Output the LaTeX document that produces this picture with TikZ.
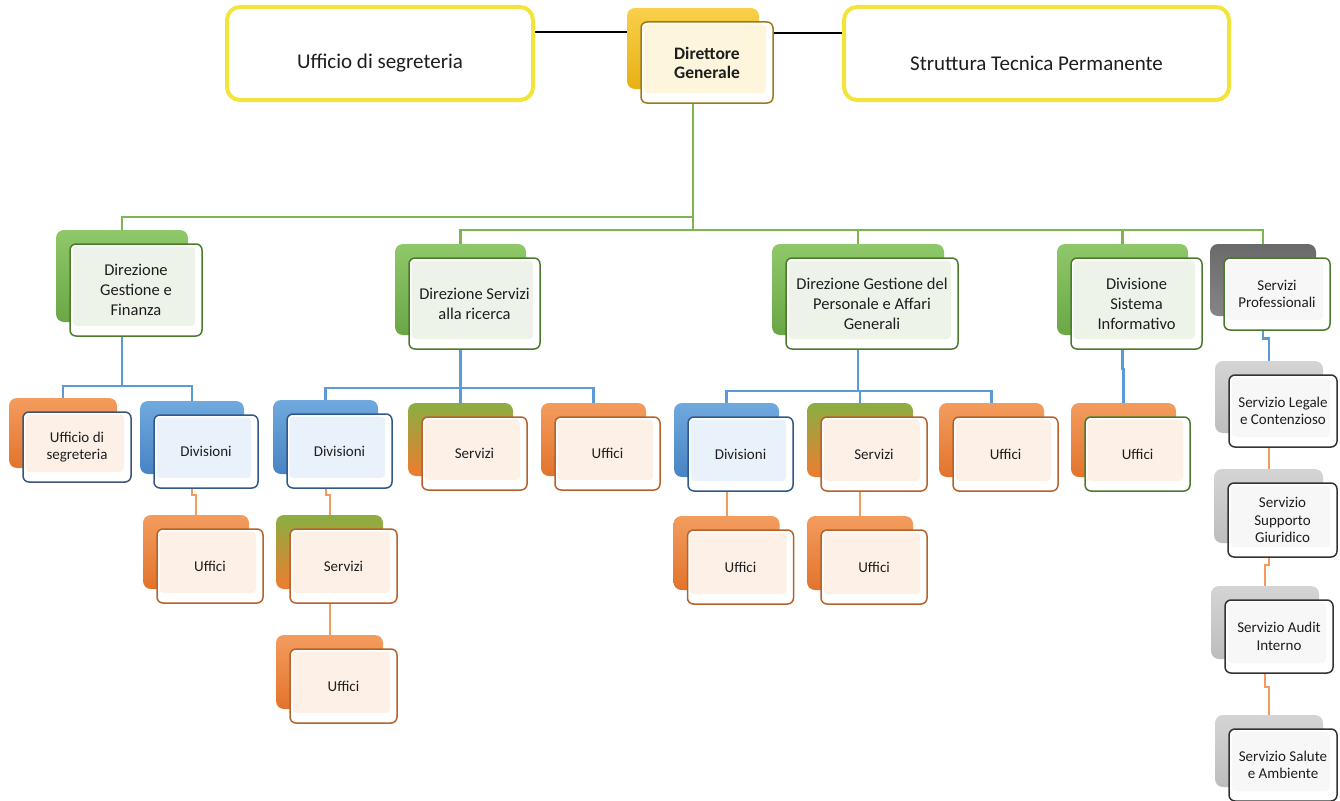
\documentclass[tikz,border=0pt]{standalone}
\usepackage{fontspec}
\setmainfont{Carlito}
\usetikzlibrary{calc}
\definecolor{gT}{HTML}{8FC86A}
\definecolor{gB}{HTML}{6AA646}
\definecolor{gD}{HTML}{4A7A2C}
\definecolor{gTint}{HTML}{EEF3EA}
\definecolor{oT}{HTML}{F39C5E}
\definecolor{oB}{HTML}{E2742C}
\definecolor{oD}{HTML}{B5622C}
\definecolor{oTint}{HTML}{FDF0E6}
\definecolor{bT}{HTML}{70A9DD}
\definecolor{bB}{HTML}{4884C4}
\definecolor{bD}{HTML}{30598A}
\definecolor{bTint}{HTML}{E9F2FB}
\definecolor{yT}{HTML}{F8D04A}
\definecolor{yB}{HTML}{E8B014}
\definecolor{yD}{HTML}{9C7A1C}
\definecolor{yTint}{HTML}{FDF6DC}
\definecolor{kT}{HTML}{6A6A6A}
\definecolor{kB}{HTML}{858585}
\definecolor{lT}{HTML}{D4D4D4}
\definecolor{lB}{HTML}{BDBDBD}
\definecolor{kD}{HTML}{333333}
\definecolor{kTint}{HTML}{F7F7F7}
\definecolor{nD}{HTML}{3A5575}
\definecolor{goT}{HTML}{8AAE42}
\definecolor{goB}{HTML}{EE7C30}
\definecolor{yBorder}{HTML}{F3E43C}
\definecolor{gLine}{HTML}{7DB64E}
\definecolor{bLine}{HTML}{5B9BD5}
\definecolor{oLine}{HTML}{F39A5C}
\definecolor{txt}{HTML}{1E1E1E}
\pgfdeclarelayer{bg}
\pgfsetlayers{bg,main}
\tikzset{
  boxtint/.code={\def\boxtintcol{#1}},
  backbox/.style={rounded corners=8pt, draw=none, inner sep=0pt},
  frontbox/.style={rounded corners=6pt, line width=1.5pt, fill=white, inner sep=1pt,
    align=center, text=txt,
    path picture={\fill[\boxtintcol, rounded corners=4pt]
      ($(path picture bounding box.north west)+(2.5pt,-2.5pt)$) rectangle
      ($(path picture bounding box.south east)+(-7pt,10pt)$);}},
  topbox/.style={draw=yBorder, line width=4pt, rounded corners=13pt, fill=white},
  bkG/.style={top color=gT, bottom color=gB},
  bkO/.style={top color=oT, bottom color=oB},
  bkB/.style={top color=bT, bottom color=bB},
  bkY/.style={top color=yT, bottom color=yB},
  bkK/.style={top color=kT, bottom color=kB},
  bkL/.style={top color=lT, bottom color=lB},
  bkGO/.style={top color=goT, bottom color=goB},
  frG/.style={draw=gD, boxtint=gTint},
  frO/.style={draw=oD, boxtint=oTint},
  frB/.style={draw=bD, boxtint=bTint},
  frY/.style={draw=yD, boxtint=yTint},
  frK/.style={draw=kD, boxtint=kTint},
  frGO/.style={draw=gD, boxtint=oTint},
  frGK/.style={draw=gD, boxtint=kTint},
  frN/.style={draw=nD, boxtint=oTint},
  fLone/.style={font=\fontsize{16.5}{20}\selectfont},
  fLtwo/.style={font=\fontsize{15}{17.5}\selectfont},
  fDG/.style={font=\fontsize{17.5}{19}\selectfont\bfseries},
  fTop/.style={font=\fontsize{21}{25}\selectfont},
  kline/.style={draw=black, line width=1.6pt},
  gline/.style={draw=gLine, line width=2.6pt},
  bline/.style={draw=bLine, line width=2.2pt},
  oline/.style={draw=oLine, line width=2pt},
}
\newcommand\orgnode[8]{%
  \node[backbox,#5,minimum width=#3,minimum height=#4] (#1-b) at ($(#2)+(-14,-14)$) {};
  \node[frontbox,#6,#7,minimum width=#3,minimum height=#4] (#1) at (#2) {#8};}
\begin{document}
\begin{tikzpicture}[x=1pt,y=-1pt]
\useasboundingbox (0,0) rectangle (1340,800);
% top boxes
\node[topbox, minimum width=306, minimum height=93,
  label={[name=ufseg-t, yshift=-10pt, fTop, text=txt]center:Ufficio di segreteria}] (ufseg) at (380,53.5) {};
\node[topbox, minimum width=385, minimum height=93,
  label={[name=stp-t, yshift=-10pt, fTop, text=txt]center:Struttura Tecnica Permanente}] (stp) at (1036.5,53.5) {};
\orgnode{dg}{707,62.5}{132}{81}{bkY}{frY}{fDG}{Direttore\\Generale}
% level 1
\orgnode{dgf}{136,290}{132}{92}{bkG}{frG}{fLone}{Direzione\\Gestione e\\Finanza}
\orgnode{dsr}{474.5,303.5}{131}{91}{bkG}{frG}{fLone}{Direzione Servizi\\alla ricerca}
\orgnode{dgp}{872,303.5}{172}{91}{bkG}{frG}{fLone}{Direzione Gestione del\\Personale e Affari\\Generali}
\orgnode{dsi}{1136.5,303.5}{131}{91}{bkG}{frG}{fLone}{Divisione\\Sistema\\Informativo}
\orgnode{sp}{1277,294}{106}{72}{bkK}{frGK}{fLtwo}{Servizi\\Professionali}
% level 2
\orgnode{dgfus}{77,447}{108}{70}{bkO}{frN}{fLtwo}{Ufficio di\\segreteria}
\orgnode{dgfdiv}{206,451.5}{104}{73}{bkB}{frB}{fLtwo}{Divisioni}
\orgnode{dgfuff}{210,566}{106}{74}{bkO}{frO}{fLtwo}{Uffici}
\orgnode{dsrdiv}{339.5,451}{105}{74}{bkB}{frB}{fLtwo}{Divisioni}
\orgnode{dsrser}{474.5,453.5}{105}{73}{bkGO}{frO}{fLtwo}{Servizi}
\orgnode{dsruff}{607.5,453.5}{105}{73}{bkO}{frO}{fLtwo}{Uffici}
\orgnode{dsrser2}{343.5,566}{107}{74}{bkGO}{frO}{fLtwo}{Servizi}
\orgnode{dsruff2}{343.5,686}{107}{74}{bkO}{frO}{fLtwo}{Uffici}
\orgnode{dgpdiv}{740.5,454}{105}{74}{bkB}{frB}{fLtwo}{Divisioni}
\orgnode{dgpser}{874,454}{106}{74}{bkGO}{frO}{fLtwo}{Servizi}
\orgnode{dgpuff}{1005.5,454}{105}{74}{bkO}{frO}{fLtwo}{Uffici}
\orgnode{dgpuffa}{740.5,567}{106}{74}{bkO}{frO}{fLtwo}{Uffici}
\orgnode{dgpuffb}{874,567}{106}{74}{bkO}{frO}{fLtwo}{Uffici}
\orgnode{dsiuff}{1137.5,454}{105}{74}{bkO}{frGO}{fLtwo}{Uffici}
\orgnode{sa}{1283,411}{108}{72}{bkL}{frK}{fLtwo}{Servizio Legale\\e Contenzioso}
\orgnode{sb}{1282.5,520}{109}{74}{bkL}{frK}{fLtwo}{Servizio\\Supporto\\Giuridico}
\orgnode{sc}{1279,636.5}{108}{73}{bkL}{frK}{fLtwo}{Servizio Audit\\Interno}
\orgnode{sd}{1283,765}{108}{72}{bkL}{frK}{fLtwo}{Servizio Salute\\e Ambiente}
% connectors
\begin{pgfonlayer}{bg}
\fill[white] (0,0) rectangle (1340,800);
\draw[kline] (ufseg.east |- 0,32) -- (dg-b.west |- 0,32);
\draw[kline] (dg.east |- 0,33) -- (stp.west |- 0,33);
\draw[gline] (dg-b.south) -- (dg-b.south |- 0,230);
\draw[gline] (dg-b.south |- 0,217) -| (dgf-b.north);
\draw[gline] (dsr-b.north) |- (sp-b.north |- 0,230) -- (sp-b.north);
\draw[gline] (dgp-b.north) -- (dgp-b.north |- 0,230);
\draw[gline] (dsi-b.north) -- (dsi-b.north |- 0,230);
% DGF
\draw[bline] (dgf-b.south) -- (dgf-b.south |- 0,386);
\draw[bline] (dgfus-b.north) |- (dgfdiv-b.north |- 0,386) -- (dgfdiv-b.north);
\draw[oline] (dgfdiv-b.south) |- ($(dgfdiv-b.south)!.5!(dgfuff-b.north)$) -| (dgfuff-b.north);
% DSR
\draw[bline] (dsr-b.south) -- (dsr-b.south |- 0,388);
\draw[bline] (dsrdiv-b.north) |- (dsruff-b.north |- 0,388) -- (dsruff-b.north);
\draw[bline] (dsrser-b.north) -- (dsrser-b.north |- 0,388);
\draw[oline] (dsrdiv-b.south) |- ($(dsrdiv-b.south)!.5!(dsrser2-b.north)$) -| (dsrser2-b.north);
\draw[oline] (dsrser2-b.south) |- ($(dsrser2-b.south)!.5!(dsruff2-b.north)$) -| (dsruff2-b.north);
% DGP
\draw[bline] (dgp-b.south) -- (dgp-b.south |- 0,391);
\draw[bline] (dgpdiv-b.north) |- (dgpuff-b.north |- 0,391) -- (dgpuff-b.north);
\draw[bline] (dgpser-b.north) -- (dgpser-b.north |- 0,391);
\draw[oline] (dgpdiv-b.south) |- ($(dgpdiv-b.south)!.5!(dgpuffa-b.north)$) -| (dgpuffa-b.north);
\draw[oline] (dgpser-b.south) |- ($(dgpser-b.south)!.5!(dgpuffb-b.north)$) -| (dgpuffb-b.north);
% DSI
\draw[bline] (dsi-b.south) |- ($(dsi-b.south)!.5!(dsiuff-b.north)$) -| (dsiuff-b.north);
% SP column
\draw[bline] (sp-b.south) |- ($(sp-b.south)!.5!(sa-b.north)$) -| (sa-b.north);
\draw[oline] (sa-b.south) |- ($(sa-b.south)!.5!(sb-b.north)$) -| (sb-b.north);
\draw[oline] (sb-b.south) |- ($(sb-b.south)!.5!(sc-b.north)$) -| (sc-b.north);
\draw[oline] (sc-b.south) |- ($(sc-b.south)!.5!(sd-b.north)$) -| (sd-b.north);
\end{pgfonlayer}
\end{tikzpicture}
\end{document}
